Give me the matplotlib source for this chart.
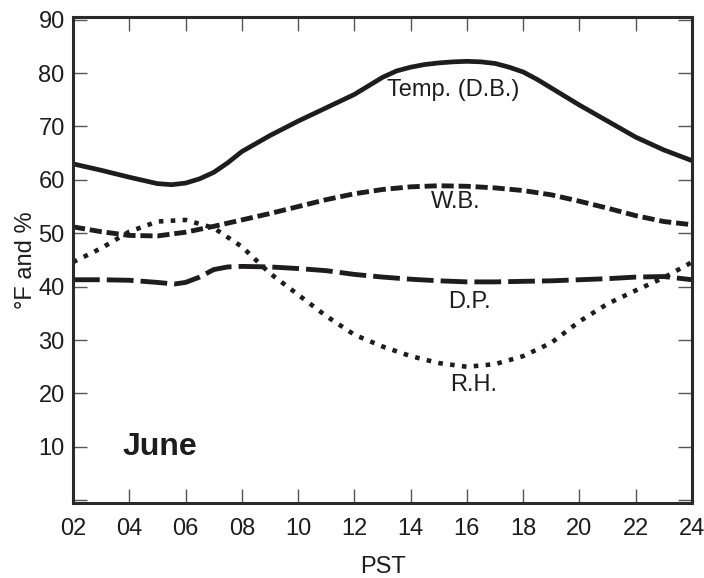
import numpy as np
import matplotlib.pyplot as plt

plt.rcParams['font.family'] = ['Liberation Sans', 'DejaVu Sans']

# Dry-bulb temperature, read every hour with extra half-hour reads at the bends
db_hours = [2, 3, 4, 5, 5.5, 6, 6.5, 7, 7.5, 8, 9, 10, 11, 12, 12.5, 13, 13.5, 14, 14.5,
            15, 15.5, 16, 16.5, 17, 17.5, 18, 18.5, 19, 20, 21, 22, 23, 24]
temp_db = [63, 61.8, 60.5, 59.3, 59.1, 59.4, 60.2, 61.4, 63.2, 65.3, 68.3, 71, 73.5, 76,
           77.6, 79.2, 80.4, 81.1, 81.6, 81.9, 82.1, 82.2, 82.1, 81.8, 81.1, 80.2, 78.8,
           77.2, 74, 71, 68, 65.6, 63.6]

hours = [2, 3, 4, 5, 6, 7, 8, 9, 10, 11, 12, 13, 14, 15, 16, 17, 18, 19, 20, 21, 22, 23, 24]
wet_bulb = [51.2, 50.3, 49.6, 49.5, 50.2, 51.3, 52.5, 53.7, 55, 56.3, 57.4, 58.2, 58.7,
            58.9, 58.8, 58.5, 58, 57.2, 56, 54.7, 53.3, 52.2, 51.6]
rel_hum = [44.6, 47.2, 50.3, 52.2, 52.5, 51, 47.5, 42.5, 38.5, 34.5, 31, 28.8, 27,
           25.7, 25, 25.5, 27, 29.5, 33.5, 36.8, 39.3, 41.7, 44.6]

dp_hours = [2, 3, 4, 5, 5.6, 6, 6.5, 7, 7.5, 8, 9, 10, 11, 12, 13, 14, 15, 16, 17, 18,
            19, 20, 21, 22, 23, 24]
dew_point = [41.3, 41.3, 41.2, 40.8, 40.5, 40.8, 41.8, 43.2, 43.7, 43.8, 43.7, 43.4, 43,
             42.3, 41.8, 41.4, 41.1, 40.9, 40.9, 41, 41.1, 41.3, 41.5, 41.8, 41.9, 41.3]

x_ticks = list(range(2, 25, 2))
x_labels = ["%02d" % h for h in x_ticks]
y_ticks = list(range(0, 91, 10))
y_labels = [""] + [str(v) for v in y_ticks[1:]]

ink = '#1f1c1d'

fig = plt.figure(figsize=(7.04, 5.78), dpi=100)
ax = fig.add_axes([0.1037, 0.1298, 0.8793, 0.8408])

ax.plot(db_hours, temp_db, color=ink, lw=3.4, solid_capstyle='butt', solid_joinstyle='round')
ax.plot(hours, wet_bulb, color=ink, lw=3.5, linestyle=(0, (2.5, 1.0)))
ax.plot(dp_hours, dew_point, color=ink, lw=3.5, linestyle=(0, (5.5, 1.45)))
ax.plot(hours, rel_hum, color=ink, lw=3.3, linestyle=(0, (1, 1.6)))

ax.text(15.5, 76.9, "Temp. (D.B.)", ha='center', va='center', fontsize=17, color=ink)
ax.text(15.6, 55.9, "W.B.", ha='center', va='center', fontsize=17, color=ink)
ax.text(16.1, 37.1, "D.P.", ha='center', va='center', fontsize=17, color=ink)
ax.text(16.25, 21.6, "R.H.", ha='center', va='center', fontsize=17, color=ink)
ax.text(5.1, 10, "June", ha='center', va='center', fontsize=23, fontweight='bold', color=ink)

ax.set_xlim(2, 24)
ax.set_ylim(-0.5, 90.5)
ax.set_xticks(x_ticks)
ax.set_xticklabels(x_labels)
ax.set_yticks(y_ticks)
ax.set_yticklabels(y_labels)
ax.tick_params(direction='in', length=10, width=1, colors='#555555', labelcolor=ink,
               labelsize=17, top=True, right=True)
ax.tick_params(axis='x', pad=11)
ax.tick_params(axis='y', pad=6)

for side in ax.spines.values():
    side.set_linewidth(2.2)
    side.set_color('#2a2a2a')

ax.set_xlabel("PST", fontsize=17, color=ink, labelpad=11)
ax.set_ylabel("°F and %", fontsize=17, color=ink)
ax.yaxis.set_label_coords(-0.058, 0.5)

fig.savefig("out.png", dpi=100)
